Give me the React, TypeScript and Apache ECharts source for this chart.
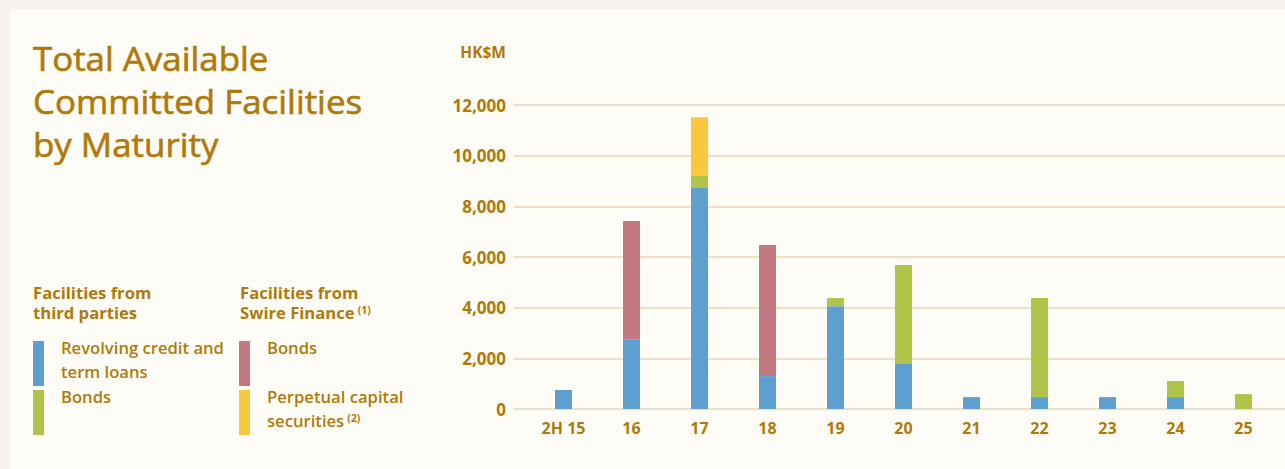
import React, { useEffect, useRef } from 'react';
import * as echarts from 'echarts';

// ---------- data ----------
const categories = ['2H 15', '16', '17', '18', '19', '20', '21', '22', '23', '24', '25'];
const revolvingLoans = [750, 2750, 8750, 1300, 4060, 1800, 470, 470, 470, 470, 0];
const thirdPartyBonds = [0, 0, 470, 0, 320, 3880, 0, 3910, 0, 635, 590];
const swireBonds = [0, 4670, 0, 5170, 0, 0, 0, 0, 0, 0, 0];
const perpetualSecurities = [0, 0, 2300, 0, 0, 0, 0, 0, 0, 0, 0];

const seriesNames = ['Revolving credit and term loans', 'Bonds', 'Bonds (Swire Finance)', 'Perpetual capital securities'];
const titleLines = ['Total Available', 'Committed Facilities', 'by Maturity'];
const unitLabel = 'HK$M';
const yMin = 0;
const yMax = 12000;
const yInterval = 2000;

// ---------- styles ----------
const GOLD = '#b07a0a';
const BLUE = '#5f9fd0';
const GREEN = '#b0c449';
const PINK = '#c47882';
const YELLOW = '#fbc83d';
const GRIDLINE = '#eedfc5';
const OUTER_BG = '#f7f3ec';
const PANEL_BG = '#fdfcf7';
const FONT = '"Open Sans", "Noto Sans", sans-serif';

function txt(x: number, y: number, text: string, size: number, weight: any, extra: any = {}, sx = 1) {
  return {
    type: 'text',
    x,
    y,
    scaleX: sx,
    silent: true,
    style: {
      text,
      fill: GOLD,
      fontSize: size,
      fontWeight: weight,
      fontFamily: FONT,
      align: 'left',
      verticalAlign: 'middle',
      ...extra,
    },
  };
}

export default function App() {
  const ref = useRef<HTMLDivElement>(null);

  useEffect(() => {
    const chart = echarts.init(ref.current!, null, { renderer: 'svg', width: 1285, height: 469 });

    const supRich = {
      m: { fontSize: 16, fontWeight: 'bold', fontFamily: FONT, fill: GOLD, color: GOLD },
      s: { fontSize: 10, fontWeight: 'bold', fontFamily: FONT, fill: GOLD, color: GOLD, verticalAlign: 'top', padding: [0, 0, 0, 3] },
    };
    const supRichItem = {
      m: { fontSize: 16, fontWeight: 600, fontFamily: FONT, fill: GOLD, color: GOLD },
      s: { fontSize: 10, fontWeight: 'bold', fontFamily: FONT, fill: GOLD, color: GOLD, verticalAlign: 'top', padding: [0, 0, 0, 3] },
    };
    const TS = 1.09; // title horizontal scale
    const LS = 1.04; // legend horizontal scale
    const titleStroke = { stroke: GOLD, lineWidth: 0.6 };

    const graphic: any[] = [
      // title
      txt(33, 59, titleLines[0], 32, 500, titleStroke, TS),
      txt(33, 102, titleLines[1], 32, 500, titleStroke, TS),
      txt(33, 145, titleLines[2], 32, 500, titleStroke, TS),
      // unit
      txt(506, 52, unitLabel, 15.5, 'bold', { align: 'right' }),
      // legend headers
      txt(33, 293, 'Facilities from', 16, 'bold', {}, LS),
      txt(33, 313, 'third parties', 16, 'bold', {}, LS),
      txt(240, 293, 'Facilities from', 16, 'bold', {}, LS),
      {
        type: 'text', x: 240, y: 313, scaleX: LS, silent: true,
        style: { text: '{m|Swire Finance}{s|(1)}', rich: supRich, fill: GOLD, fontFamily: FONT, align: 'left', verticalAlign: 'middle' },
      },
      // swatches
      { type: 'rect', silent: true, shape: { x: 33, y: 341, width: 11, height: 45 }, style: { fill: BLUE } },
      { type: 'rect', silent: true, shape: { x: 33, y: 390, width: 11, height: 45 }, style: { fill: GREEN } },
      { type: 'rect', silent: true, shape: { x: 239, y: 341, width: 11, height: 45 }, style: { fill: PINK } },
      { type: 'rect', silent: true, shape: { x: 239, y: 390, width: 11, height: 45 }, style: { fill: YELLOW } },
      // legend item texts
      txt(61, 348, 'Revolving credit and', 16, 600, {}, LS),
      txt(61, 372, 'term loans', 16, 600, {}, LS),
      txt(61, 397, 'Bonds', 16, 600, {}, LS),
      txt(267, 348, 'Bonds', 16, 600, {}, LS),
      txt(267, 397, 'Perpetual capital', 16, 600, {}, LS),
      {
        type: 'text', x: 267, y: 421, scaleX: LS, silent: true,
        style: { text: '{m|securities}{s|(2)}', rich: supRichItem, fill: GOLD, fontFamily: FONT, align: 'left', verticalAlign: 'middle' },
      },
    ];

    const option: any = {
      animation: false,
      backgroundColor: 'transparent',
      textStyle: { fontFamily: FONT },
      graphic,
      grid: [
        { left: 514, right: 0, top: 105, height: 304 },
        { left: 529.5, right: 7.5, top: 105, height: 304 },
      ],
      xAxis: [
        { gridIndex: 0, type: 'value', min: 0, max: 1, show: false },
        {
          gridIndex: 1,
          type: 'category',
          data: categories,
          axisLine: { show: false },
          axisTick: { show: false },
          axisLabel: { color: GOLD, fontSize: 16, fontWeight: 'bold', fontFamily: FONT, margin: 11 },
        },
      ],
      yAxis: [
        {
          gridIndex: 0,
          type: 'value',
          min: yMin,
          max: yMax,
          interval: yInterval,
          axisLine: { show: false },
          axisTick: { show: false },
          axisLabel: {
            color: GOLD, fontSize: 17, fontWeight: 'bold', fontFamily: FONT, margin: 8,
            formatter: (v: number) => v.toLocaleString('en-US'),
          },
          splitLine: { lineStyle: { color: GRIDLINE, width: 2 } },
        },
        { gridIndex: 1, type: 'value', min: yMin, max: yMax, interval: yInterval, show: false, splitLine: { show: false } },
      ],
      series: [
        { name: seriesNames[0], type: 'bar', stack: 'total', xAxisIndex: 1, yAxisIndex: 1, barWidth: 17, data: revolvingLoans, itemStyle: { color: BLUE } },
        { name: seriesNames[1], type: 'bar', stack: 'total', xAxisIndex: 1, yAxisIndex: 1, barWidth: 17, data: thirdPartyBonds, itemStyle: { color: GREEN } },
        { name: seriesNames[2], type: 'bar', stack: 'total', xAxisIndex: 1, yAxisIndex: 1, barWidth: 17, data: swireBonds, itemStyle: { color: PINK } },
        { name: seriesNames[3], type: 'bar', stack: 'total', xAxisIndex: 1, yAxisIndex: 1, barWidth: 17, data: perpetualSecurities, itemStyle: { color: YELLOW } },
      ],
    };

    chart.setOption(option);
    return () => chart.dispose();
  }, []);

  return (
    <div style={{ position: 'fixed', left: 0, top: 0, width: 1285, height: 469, background: OUTER_BG }}>
      <div style={{ position: 'absolute', left: 10, top: 9, right: 0, bottom: 0, background: PANEL_BG }} />
      <div ref={ref} style={{ position: 'absolute', left: 0, top: 0, width: 1285, height: 469 }} />
    </div>
  );
}
